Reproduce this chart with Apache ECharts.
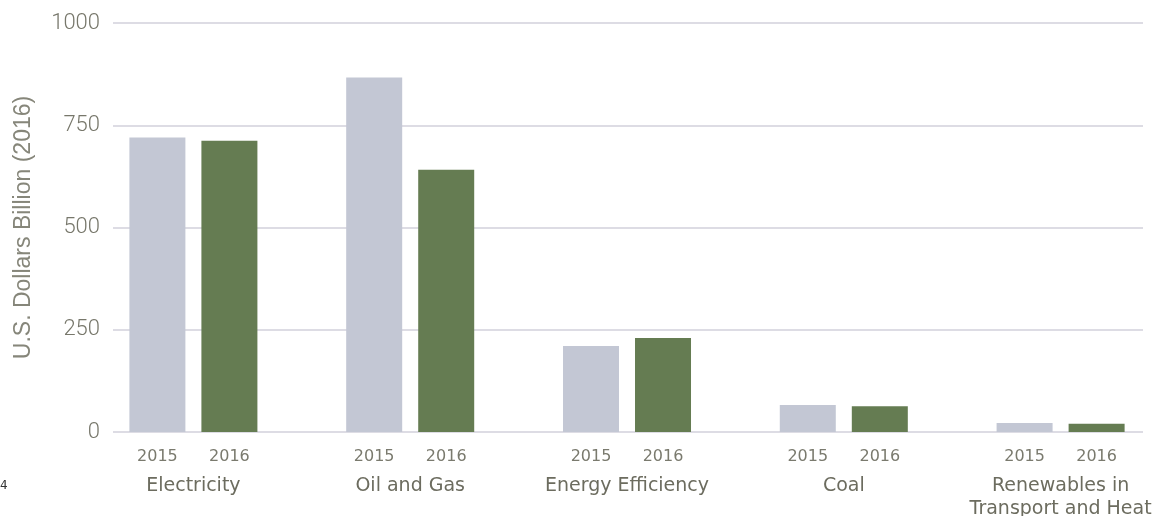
<!DOCTYPE html>
<html>
<head>
<meta charset="utf-8">
<script src="https://cdn.jsdelivr.net/npm/echarts@6/dist/echarts.min.js"></script>
<style>
html,body{margin:0;padding:0;background:#fff;}
#chart{width:1154px;height:516px;}
</style>
</head>
<body>
<div id="chart"></div>
<script>
const categories = ['Electricity', 'Oil and Gas', 'Energy Efficiency', 'Coal', 'Renewables in\nTransport and Heat'];
const years = ['2015', '2016'];
const values2015 = [720, 867, 210, 66, 22];
const values2016 = [712, 641, 230, 63, 20];
const yTicks = [0, 250, 500, 750, 1000];

const textColor = '#6c6c5f';
const font = 'DejaVu Sans';
const chart = echarts.init(document.getElementById('chart'));

function barSeries(name, data, color) {
  return {
    name: name,
    type: 'bar',
    xAxisIndex: 1,
    yAxisIndex: 1,
    data: data,
    barWidth: 56,
    barGap: '28.6%',
    itemStyle: { color: color },
    label: {
      show: true,
      position: 'bottom',
      distance: 17,
      formatter: '{a}',
      fontFamily: font,
      fontSize: 16,
      color: '#7a7a6e'
    },
    silent: true
  };
}

chart.setOption({
  animation: false,
  backgroundColor: '#ffffff',
  grid: [
    { left: 113, top: 23, width: 1030, height: 409, outerBoundsMode: 'none', containLabel: false },
    { left: 85, top: 23, width: 1084, height: 409, outerBoundsMode: 'none', containLabel: false }
  ],
  xAxis: [
    { gridIndex: 0, type: 'category', data: [''], show: false },
    {
      gridIndex: 1, type: 'category', data: categories,
      axisLine: { show: false }, axisTick: { show: false },
      axisLabel: { margin: 43, fontFamily: font, fontSize: 19, color: textColor, lineHeight: 23, interval: 0 }
    }
  ],
  yAxis: [
    {
      gridIndex: 0, type: 'value', min: yTicks[0], max: yTicks[yTicks.length - 1], interval: 250,
      name: 'U.S. Dollars Billion (2016)', nameLocation: 'middle', nameGap: 78,
      nameTextStyle: { fontFamily: 'Liberation Sans', fontSize: 23, color: '#86867a' },
      axisLine: { show: false }, axisTick: { show: false },
      axisLabel: { margin: 13, fontFamily: 'Roboto', fontWeight: 300, fontSize: 22, color: '#77776b', formatter: function (v) { return String(v); } },
      splitLine: { show: true, lineStyle: { color: '#dddce4', width: 2 } }
    },
    { gridIndex: 1, type: 'value', min: 0, max: 1000, show: false }
  ],
  graphic: [
    { type: 'text', left: 0, top: 480, style: { text: '4', fontFamily: font, fontSize: 12, fill: '#333' } }
  ],
  series: [
    barSeries(years[0], values2015, '#c3c7d4'),
    barSeries(years[1], values2016, '#657c52')
  ]
});
</script>
</body>
</html>
